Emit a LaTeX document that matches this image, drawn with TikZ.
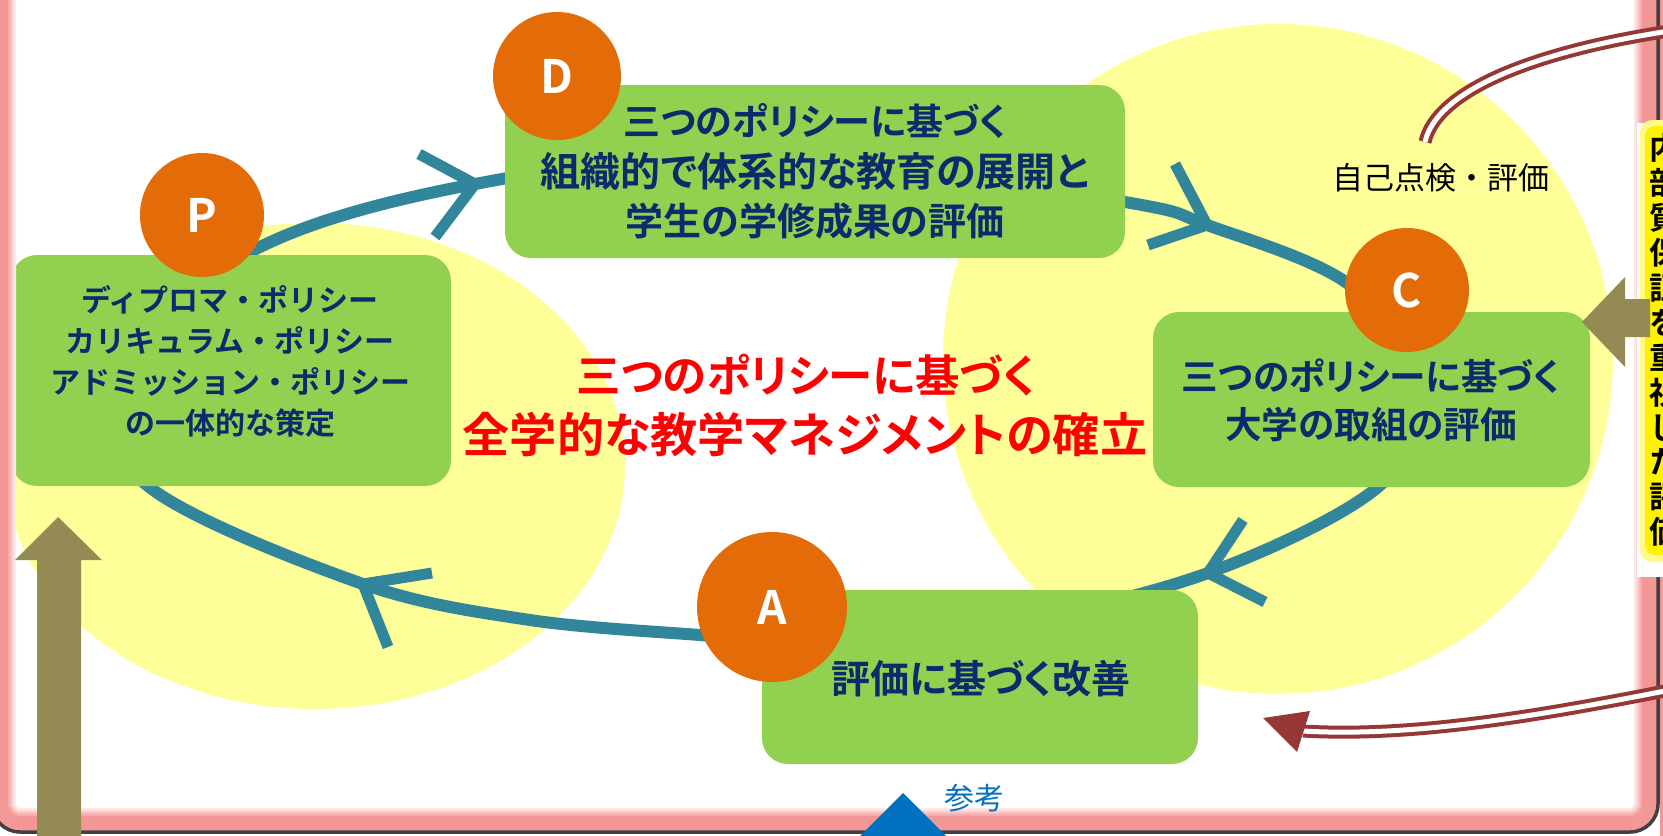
\documentclass[tikz,border=0pt]{standalone}
\usepackage{fontspec}
\setmainfont{Noto Sans CJK JP}
\newfontfamily\jp{Noto Sans CJK JP}
\newfontfamily\jpb{Noto Sans CJK JP}[UprightFont=* Bold]
\newfontfamily\jpbp{Noto Sans CJK JP}[UprightFont=* Bold, RawFeature=+palt]
\usetikzlibrary{calc}
\definecolor{boxgreen}{RGB}{146,208,80}
\definecolor{dotorange}{RGB}{227,108,9}
\definecolor{loopteal}{RGB}{49,134,155}
\definecolor{softyellow}{RGB}{255,255,153}
\definecolor{olivearrow}{RGB}{148,138,84}
\definecolor{darkred}{RGB}{149,55,53}
\definecolor{refblue}{RGB}{0,112,192}
\definecolor{navytext}{RGB}{12,42,108}
\definecolor{framepink}{RGB}{242,150,150}
\definecolor{frameline}{RGB}{64,64,64}
\tikzset{
  greenbox/.style={fill=boxgreen, rounded corners=13pt, inner sep=0pt},
  boxtext/.style={text=navytext, align=center, inner sep=0pt},
  pdcadot/.style={circle, fill=dotorange, text=white, inner sep=0pt, font=\jpb\fontsize{23}{23}\selectfont},
  cycleline/.style={draw=loopteal, line width=6pt},
  barb/.style={draw=loopteal, line width=5.5pt, line join=miter},
  doubleline/.style={draw=darkred, line width=2pt, double=white, double distance=2.5pt},
  titletext/.style={inner sep=0pt, text=red},
}
\begin{document}
\begin{tikzpicture}[x=0.5pt,y=-0.5pt]
\useasboundingbox (0,0) rectangle (1663,835);
\clip (0,0) rectangle (1663,835);
\fill[white] (0,0) rectangle (1663,835);

% yellow background circles
\fill[softyellow] (315,466) ellipse [x radius=155pt, y radius=121.5pt];
\fill[softyellow] (1278,359) circle [radius=167.5pt];

% PDCA loop
\draw[cycleline] plot[smooth cycle, tension=0.55] coordinates {(260,247) (475,184) (777,150) (1125,202) (1207,225) (1347,283) (1430,385) (1378,487) (1208,573) (1000,624) (785,640) (700,635) (530,620) (363,584) (148,486) (100,370)};
\coordinate (j1) at (475,184); \coordinate (j1a) at (419,154); \coordinate (j1b) at (435,237);
\coordinate (j2) at (1207,225); \coordinate (j2a) at (1175,164); \coordinate (j2b) at (1148,245);
\coordinate (j3) at (1208,573); \coordinate (j3a) at (1243,520); \coordinate (j3b) at (1265,602);
\coordinate (j4) at (363,584); \coordinate (j4a) at (432,573); \coordinate (j4b) at (388,647);
\draw[barb] (j1a) -- (j1) -- (j1b);
\draw[barb] (j2a) -- (j2) -- (j2b);
\draw[barb] (j3a) -- (j3) -- (j3b);
\draw[barb] (j4a) -- (j4) -- (j4b);

% green boxes
\node[greenbox, minimum width=220pt, minimum height=115.5pt] (pbox) at (231,370.5) {};
\node[greenbox, minimum width=310pt, minimum height=86.5pt] (dbox) at (815,171.5) {};
\node[greenbox, minimum width=218.5pt, minimum height=87.5pt] (cbox) at (1371.5,399.5) {};
\node[greenbox, minimum width=218pt, minimum height=87pt] (abox) at (980,677) {};

\node[boxtext, font=\jpb\fontsize{15}{20.5}\selectfont] (ptext) at (230,361) {ディプロマ・ポリシー\\カリキュラム・ポリシー\\アドミッション・ポリシー\\の一体的な策定};
\node[boxtext, font=\jpbp\fontsize{18.5}{18.5}\selectfont] (dtext1) at (815,121) {三つのポリシーに基づく};
\node[boxtext, font=\jpbp\fontsize{20}{20}\selectfont] (dtext2) at (815,171) {組織的で体系的な教育の展開と};
\node[boxtext, font=\jpbp\fontsize{19}{19}\selectfont] (dtext3) at (815,221) {学生の学修成果の評価};
\node[boxtext, font=\jpbp\fontsize{18.3}{24}\selectfont] (ctext) at (1371,400) {三つのポリシーに基づく\\大学の取組の評価};
\node[boxtext, font=\jpbp\fontsize{19.5}{19.5}\selectfont] (atext) at (981,679) {評価に基づく改善};

% orange letter circles
\node[pdcadot, minimum size=62pt] (pdot) at (202,215) {P};
\node[pdcadot, minimum size=64pt] (ddot) at (557,76) {D};
\node[pdcadot, minimum size=62pt] (cdot) at (1407,290) {C};
\node[pdcadot, minimum size=75pt] (adot) at (772,607) {A};

% central title
\node[titletext, font=\jpbp\fontsize{22.2}{22.2}\selectfont] (title1) at (806,375) {三つのポリシーに基づく};
\node[titletext, font=\jpbp\fontsize{23.6}{23.6}\selectfont] (title2) at (805,435) {全学的な教学マネジメントの確立};
\node[inner sep=0pt, font=\jp\fontsize{15.5}{15.5}\selectfont] (selfcheck) at (1441,178) {自己点検・評価};

% frame with pink glow
\foreach \i in {0,...,11}{
  \pgfmathtruncatemacro\pct{min(100,(12-\i)*20)}
  \pgfmathsetmacro\rc{14-\i}
  \draw[framepink!\pct!white, line width=1.1pt, rounded corners=\rc pt] ({-8+2*\i+1},-60) rectangle ({1658-2*\i-1},{832-2*\i-1});
}
\draw[frameline, line width=1.75pt, rounded corners=14pt] (-8,-60) rectangle (1658,832);
\fill[framepink] (1660,-10) rectangle (1670,850);
\fill[white] (1637,123) rectangle (1663,577);

% dark red double lines
\coordinate (topend) at (1425,142);
\coordinate (topstart) at (1690,28);
\draw[doubleline] (topend) .. controls (1436,92) and (1530,50) .. (topstart);
\coordinate (botstart) at (1690,686);
\coordinate (botend) at (1303,731);
\coordinate (tipb) at (1263,718);
\draw[doubleline] (botstart) .. controls (1560,712) and (1420,738) .. (botend);
\fill[darkred] (tipb) -- (1310,711) -- (1297,752) -- cycle;

% yellow glow behind the vertical text
\fill[yellow!45!white, rounded corners=6pt] (1640,120) rectangle (1680,562);
\fill[yellow, rounded corners=5pt] (1645,126) rectangle (1680,555);

% olive arrows
\fill[olivearrow] (37,850) -- (37,560) -- (15,560) -- (58,517) -- (102,560) -- (81,560) -- (81,850) -- cycle;
\fill[olivearrow] (1650,299) -- (1625,299) -- (1625,277) -- (1582,322) -- (1625,367) -- (1625,337) -- (1650,337) -- cycle;

% blue triangle and label
\fill[refblue] (903,793) -- (850,846) -- (956,846) -- cycle;
\node[inner sep=0pt, text=refblue, font=\jp\fontsize{15}{15}\selectfont] (ref) at (974,798) {参考};

% vertical text
\node[inner sep=0pt, align=center, text=black, font=\jpb\fontsize{15.5}{17.45}\selectfont] (vtext) at (1665,340) {内\\部\\質\\保\\証\\を\\重\\視\\し\\た\\評\\価};
\end{tikzpicture}
\end{document}
